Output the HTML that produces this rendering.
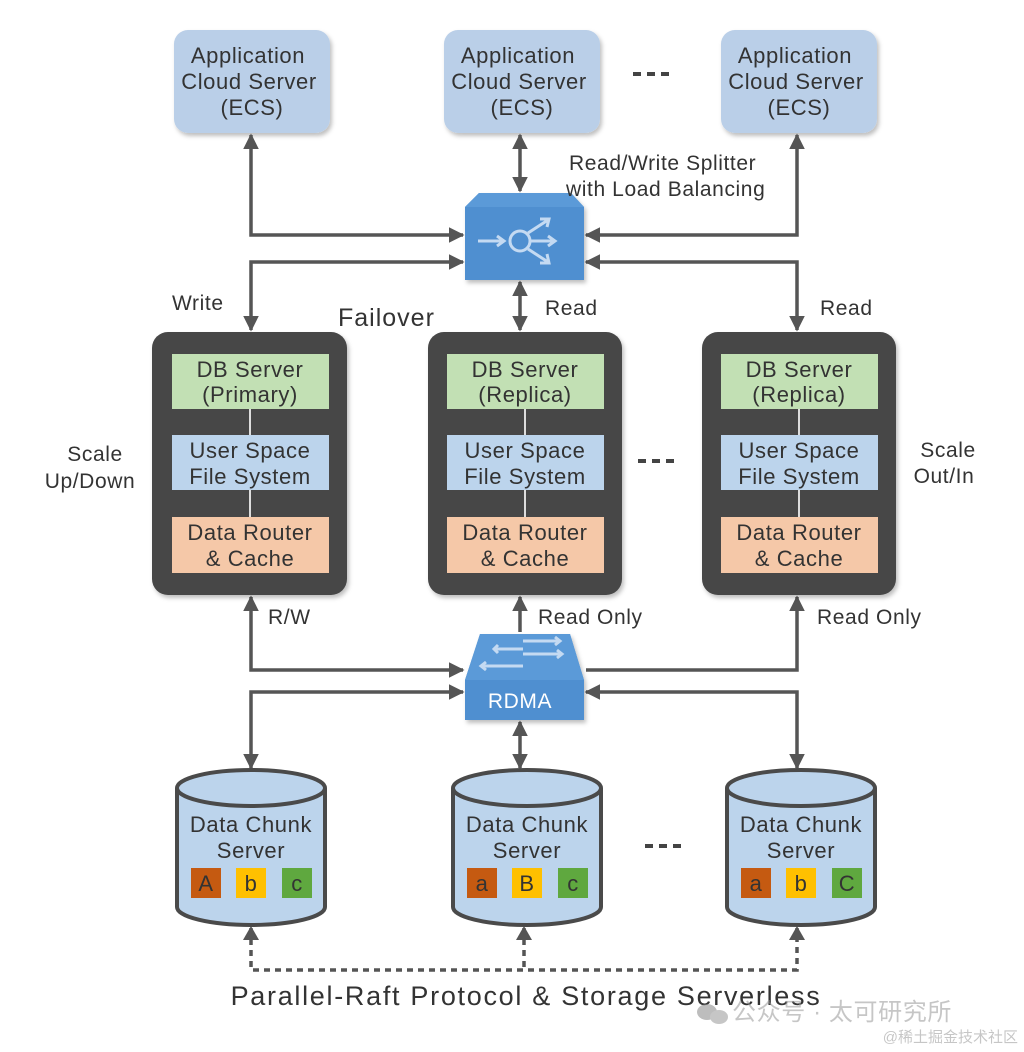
<!DOCTYPE html>
<html><head><meta charset="utf-8"><style>
html,body{margin:0;padding:0;background:#fff;width:1024px;height:1052px;overflow:hidden}
svg{display:block}
text{font-family:"Liberation Sans","Noto Sans CJK SC",sans-serif;fill:#333;letter-spacing:0.6px}
</style></head><body>
<svg width="1024" height="1052" viewBox="0 0 1024 1052" xmlns="http://www.w3.org/2000/svg">
<defs>
<marker id="a" viewBox="0 0 10 10" refX="9" refY="5" markerWidth="4.5" markerHeight="4.5" orient="auto-start-reverse"><path d="M0,0 L10,5 L0,10 z" fill="#555"/></marker>
<filter id="sh" x="-10%" y="-10%" width="130%" height="130%"><feDropShadow dx="2" dy="3" stdDeviation="2" flood-color="#000" flood-opacity="0.25"/></filter>
</defs>

<g filter="url(#sh)" fill="#bacfe8">
<rect x="174" y="30" width="156" height="103" rx="14"/>
<rect x="444" y="30" width="156" height="103" rx="14"/>
<rect x="721" y="30" width="156" height="103" rx="14"/>
</g>
<g font-size="22" text-anchor="middle">
<text x="248" y="63">Application</text><text x="249" y="89">Cloud Server</text><text x="252" y="115">(ECS)</text>
<text x="518" y="63">Application</text><text x="519" y="89">Cloud Server</text><text x="522" y="115">(ECS)</text>
<text x="795" y="63">Application</text><text x="796" y="89">Cloud Server</text><text x="799" y="115">(ECS)</text>
</g>
<g fill="#444"><rect x="633" y="72" width="8" height="4"/><rect x="647" y="72" width="8" height="4"/><rect x="661" y="72" width="8" height="4"/>
<rect x="638" y="459" width="8" height="4"/><rect x="652" y="459" width="8" height="4"/><rect x="666" y="459" width="8" height="4"/>
<rect x="645" y="844" width="8" height="4"/><rect x="659" y="844" width="8" height="4"/><rect x="673" y="844" width="8" height="4"/></g>

<g stroke="#555" stroke-width="3.5" fill="none">
<path d="M463,235 H251 V135" marker-start="url(#a)" marker-end="url(#a)"/>
<path d="M463,262 H251 V330" marker-start="url(#a)" marker-end="url(#a)"/>
<path d="M520,135 V191" marker-start="url(#a)" marker-end="url(#a)"/>
<path d="M520,282 V330" marker-start="url(#a)" marker-end="url(#a)"/>
<path d="M586,235 H797 V135" marker-start="url(#a)" marker-end="url(#a)"/>
<path d="M586,262 H797 V330" marker-start="url(#a)" marker-end="url(#a)"/>
<path d="M463,670 H251 V597" marker-start="url(#a)" marker-end="url(#a)"/>
<path d="M463,692 H251 V768" marker-start="url(#a)" marker-end="url(#a)"/>
<path d="M520,632 V597" marker-end="url(#a)"/>
<path d="M520,722 V768" marker-start="url(#a)" marker-end="url(#a)"/>
<path d="M586,670 H797 V597" marker-end="url(#a)"/>
<path d="M586,692 H797 V768" marker-start="url(#a)" marker-end="url(#a)"/>
</g>
<g stroke="#555" stroke-width="3.5" fill="none" stroke-dasharray="6,5">
<path d="M251,928 V970 H797 V928"/>
<path d="M524,928 V970"/>
</g>
<g fill="#555">
<path d="M243,940 L251,926 L259,940z"/><path d="M516,940 L524,926 L532,940z"/><path d="M789,940 L797,926 L805,940z"/>
</g>

<g filter="url(#sh)">
<path d="M465,207 L479,193 L571,193 L584,207 V280 H465 Z" fill="#4f8fd0"/>
</g>
<path d="M465,207 L479,193 L571,193 L584,207 Z" fill="#5b9ad8"/>
<g stroke="#c4daf2" stroke-width="3" fill="none">
<circle cx="520" cy="241" r="10"/>
<path d="M478,241 H503 M497,236 L504,241 L497,246"/>
<path d="M530,241 H554 M548,236 L555,241 L548,246"/>
<path d="M528,233 L548,220 M540,219 L549,219 L547,227"/>
<path d="M528,249 L548,262 M547,254 L549,263 L540,263"/>
</g>

<g filter="url(#sh)" fill="#474747">
<rect x="152" y="332" width="195" height="263" rx="16"/>
<rect x="428" y="332" width="194" height="263" rx="16"/>
<rect x="702" y="332" width="194" height="263" rx="16"/>
</g>
<g stroke="#ddd" stroke-width="2">
<path d="M250,409 V435 M250,490 V517 M525,409 V435 M525,490 V517 M799,409 V435 M799,490 V517"/>
</g>
<g>
<rect x="172" y="354" width="157" height="55" fill="#c2e0b4"/><rect x="172" y="435" width="157" height="55" fill="#bcd4ec"/><rect x="172" y="517" width="157" height="56" fill="#f5c8a8"/>
<rect x="447" y="354" width="157" height="55" fill="#c2e0b4"/><rect x="447" y="435" width="157" height="55" fill="#bcd4ec"/><rect x="447" y="517" width="157" height="56" fill="#f5c8a8"/>
<rect x="721" y="354" width="157" height="55" fill="#c2e0b4"/><rect x="721" y="435" width="157" height="55" fill="#bcd4ec"/><rect x="721" y="517" width="157" height="56" fill="#f5c8a8"/>
</g>
<g font-size="22" text-anchor="middle">
<text x="250" y="377">DB Server</text><text x="250" y="402">(Primary)</text>
<text x="250" y="458">User Space</text><text x="250" y="484">File System</text>
<text x="250" y="540">Data Router</text><text x="250" y="566">&amp; Cache</text>
<text x="525" y="377">DB Server</text><text x="525" y="402">(Replica)</text>
<text x="525" y="458">User Space</text><text x="525" y="484">File System</text>
<text x="525" y="540">Data Router</text><text x="525" y="566">&amp; Cache</text>
<text x="799" y="377">DB Server</text><text x="799" y="402">(Replica)</text>
<text x="799" y="458">User Space</text><text x="799" y="484">File System</text>
<text x="799" y="540">Data Router</text><text x="799" y="566">&amp; Cache</text>
</g>

<g filter="url(#sh)">
<path d="M465,680 L480,634 L570,634 L584,680 V720 H465 Z" fill="#4f8fd0"/>
</g>
<path d="M465,680 L480,634 L570,634 L584,680 Z" fill="#5b9ad8"/>
<g stroke="#c4daf2" stroke-width="3" fill="none">
<path d="M495,649 H523 M498,645 L494,649 L498,653"/>
<path d="M523,641 H560 M555,637 L560,641 L555,645"/>
<path d="M523,654 H562 M557,650 L562,654 L557,658"/>
<path d="M482,666 H523 M486,662 L481,666 L486,670"/>
</g>
<text x="520" y="708" font-size="21" text-anchor="middle" style="fill:#fff">RDMA</text>

<g stroke="#4a4a4a" stroke-width="4" fill="#bcd4ec">
<path d="M177,788 V907 A74,18 0 0 0 325,907 V788"/><ellipse cx="251" cy="788" rx="74" ry="18"/>
<path d="M453,788 V907 A74,18 0 0 0 601,907 V788"/><ellipse cx="527" cy="788" rx="74" ry="18"/>
<path d="M727,788 V907 A74,18 0 0 0 875,907 V788"/><ellipse cx="801" cy="788" rx="74" ry="18"/>
</g>
<g font-size="22" text-anchor="middle">
<text x="251" y="832">Data Chunk</text><text x="251" y="858">Server</text>
<text x="527" y="832">Data Chunk</text><text x="527" y="858">Server</text>
<text x="801" y="832">Data Chunk</text><text x="801" y="858">Server</text>
</g>
<g>
<rect x="191" y="868" width="30" height="30" fill="#c55a11"/><rect x="236" y="868" width="30" height="30" fill="#ffc000"/><rect x="282" y="868" width="30" height="30" fill="#5fa83f"/>
<rect x="467" y="868" width="30" height="30" fill="#c55a11"/><rect x="512" y="868" width="30" height="30" fill="#ffc000"/><rect x="558" y="868" width="30" height="30" fill="#5fa83f"/>
<rect x="741" y="868" width="30" height="30" fill="#c55a11"/><rect x="786" y="868" width="30" height="30" fill="#ffc000"/><rect x="832" y="868" width="30" height="30" fill="#5fa83f"/>
</g>
<g font-size="22" text-anchor="middle" style="letter-spacing:0">
<text x="206" y="891">A</text><text x="251" y="891">b</text><text x="297" y="891">c</text>
<text x="482" y="891">a</text><text x="527" y="891">B</text><text x="573" y="891">c</text>
<text x="756" y="891">a</text><text x="801" y="891">b</text><text x="847" y="891">C</text>
</g>

<g font-size="21" style="letter-spacing:0.7px">
<text x="569" y="170">Read/Write Splitter</text>
<text x="566" y="196">with Load Balancing</text>
<text x="172" y="310">Write</text>
<text x="545" y="315">Read</text>
<text x="820" y="315">Read</text>
<text x="338" y="326" font-size="25" style="letter-spacing:1px">Failover</text>
<text x="95" y="461" text-anchor="middle">Scale</text>
<text x="90" y="488" text-anchor="middle">Up/Down</text>
<text x="948" y="457" text-anchor="middle">Scale</text>
<text x="944" y="483" text-anchor="middle">Out/In</text>
<text x="268" y="624">R/W</text>
<text x="538" y="624">Read Only</text>
<text x="817" y="624">Read Only</text>
</g>
<text x="526" y="1005" font-size="27" text-anchor="middle" style="letter-spacing:1.7px">Parallel-Raft Protocol &amp; Storage Serverless</text>
<g opacity="0.55">
<ellipse cx="707" cy="1012" rx="10" ry="8" fill="#888"/><ellipse cx="719" cy="1017" rx="9" ry="7" fill="#999"/>
<text x="732" y="1020" font-size="24" style="fill:#999">公众号 · 太可研究所</text>
<text x="1018" y="1042" font-size="15" text-anchor="end" style="fill:#999;letter-spacing:0">@稀土掘金技术社区</text>
</g>
</svg>
</body></html>
